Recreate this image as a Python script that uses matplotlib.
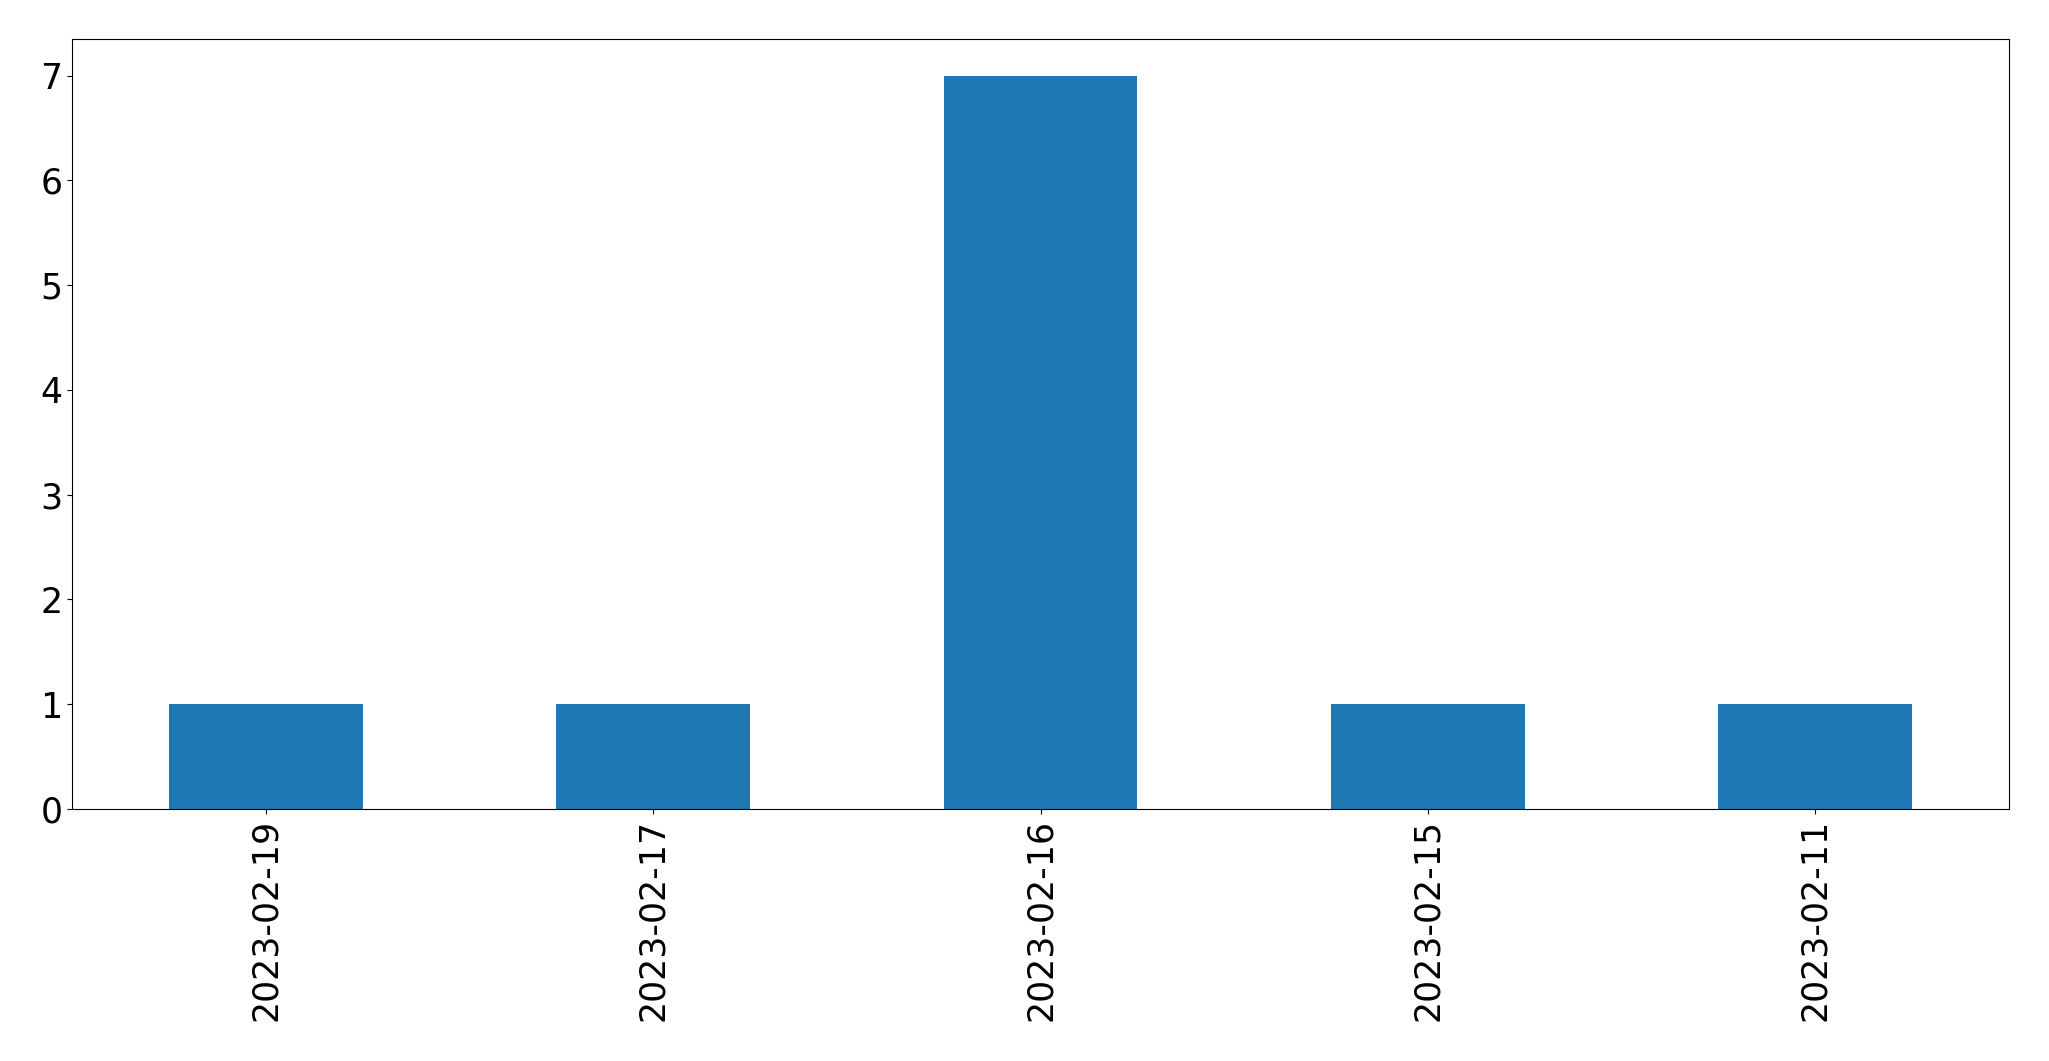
#!/usr/bin/env python3
import matplotlib
matplotlib.use('Agg')
from matplotlib import pyplot as plt
import pandas as pd

dates  = ['2023-02-19', '2023-02-17', '2023-02-16', '2023-02-15', '2023-02-11']
counts = [1, 1, 7, 1, 1]

plt.rcParams['font.size'] = 25

fig = plt.figure(figsize=(20.49, 10.61), dpi=100)
ax  = fig.add_axes([72/2049, 1 - 809/1061, (2009-72)/2049, (809-39)/1061])

serie = pd.Series(counts, index=dates)
serie.plot(kind='bar', ax=ax, color='#1f77b4')

ax.tick_params(axis='both', labelsize=25)

fig.savefig('out.png', dpi=100)
